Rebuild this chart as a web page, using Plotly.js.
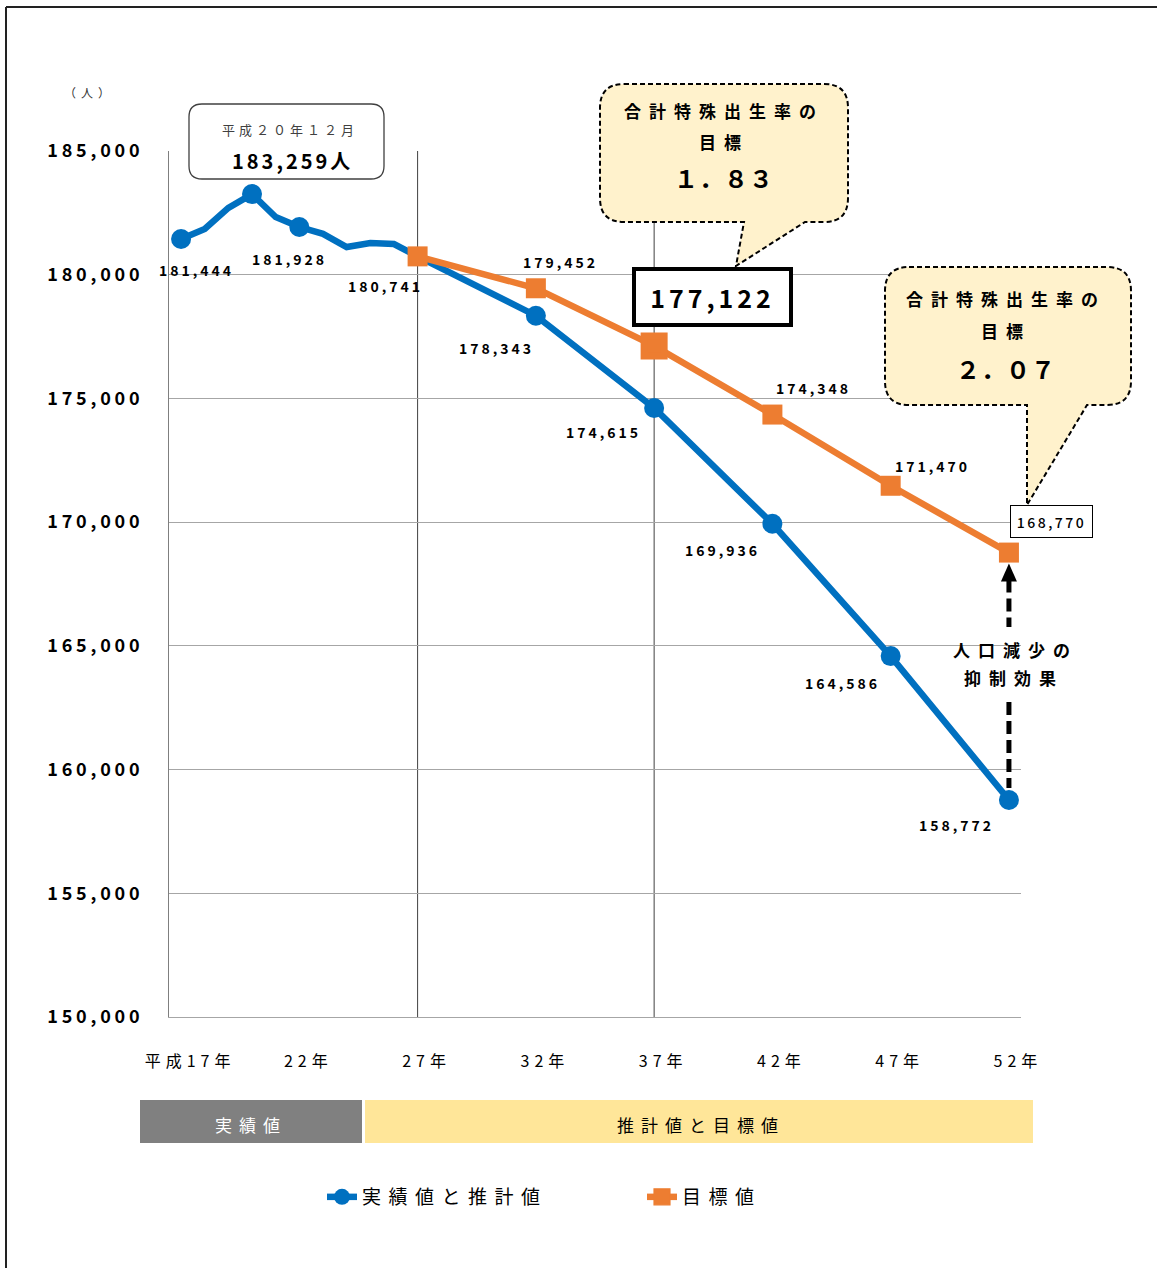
<!DOCTYPE html>
<html><head><meta charset="utf-8">
<script src="https://cdn.plot.ly/plotly-3.0.1.min.js"></script>
<style>html,body{margin:0;padding:0;background:#fff;} #chart{width:1157px;height:1268px;}</style>
</head><body><div id="chart"></div>
<script>
// ---------- data ----------
const actualYears = [17,18,19,20,21,22,23,24,25,26,27,32,37,42,47,52];
const actualValues = [181444,181850,182700,183259,182330,181928,181650,181120,181280,181240,180741,178343,174615,169936,164586,158772];
const actualMarkedYears = [17,20,22,32,37,42,47,52];
const targetYears = [27,32,37,42,47,52];
const targetValues = [180741,179452,177122,174348,171470,168770];
const tickYears = [17,22,27,32,37,42,47,52];
const tickLabels = ['平成17年','22年','27年','32年','37年','42年','47年','52年'];
const yTicks = [150000,155000,160000,165000,170000,175000,180000,185000];
const seriesNames = ['実績値と推計値','目標値'];
const bandLabels = ['実績値','推計値と目標値'];
const peakLabel = ['平成２０年１２月','183,259人'];
const goal1 = ['合計特殊出生率の','目標','１．８３'];
const goal2 = ['合計特殊出生率の','目標','２．０７'];
const effectLabel = ['人口減少の','抑制効果'];
const unitLabel = '（人）';

// ---------- geometry helpers ----------
const FONT = "'Noto Sans CJK JP', 'Noto Sans', sans-serif";
const L=169, R=1021, T=151, B=1017;
const X0=16.49, X1=52.51, Y0=150000, Y1=185000;
const px = x => (x-L)/(R-L);
const py = y => (B-y)/(B-T);
const xPix = yr => L + (yr-X0)/(X1-X0)*(R-L);
const yPix = v => B - (v-Y0)/(Y1-Y0)*(B-T);
const sp = (t, ls) => `<span style="letter-spacing:${ls}px">${t}</span>`;
const fmt = v => v.toLocaleString('en-US');

function bubble(x0,y0,x1,y1,r,tail){
  const P=(x,y)=>`${px(x).toFixed(5)},${py(y).toFixed(5)}`;
  let d=`M${P(x0+r,y0)}L${P(x1-r,y0)}Q${P(x1,y0)} ${P(x1,y0+r)}L${P(x1,y1-r)}Q${P(x1,y1)} ${P(x1-r,y1)}`;
  if(tail) d+=`L${P(tail[2],y1)}L${P(tail[1][0],tail[1][1])}L${P(tail[0],y1)}`;
  d+=`L${P(x0+r,y1)}Q${P(x0,y1)} ${P(x0,y1-r)}L${P(x0,y0+r)}Q${P(x0,y0)} ${P(x0+r,y0)}Z`;
  return d;
}

// ---------- traces ----------
const blue = '#0070C0', orange = '#ED7D31';
const traces = [
  {x: actualYears, y: actualValues, type:'scatter', mode:'lines+markers', name: sp(seriesNames[0],7.5),
   line:{color:blue,width:6.5},
   marker:{symbol:'circle', opacity:1, size:20,
     color: actualYears.map(y => actualMarkedYears.includes(y) ? blue : 'rgba(0,0,0,0)')},
   hoverinfo:'skip'},
  {x: targetYears, y: targetValues, type:'scatter', mode:'lines+markers', name: sp(seriesNames[1],7.5),
   line:{color:orange,width:6.5},
   marker:{color:orange, symbol:'square', opacity:1, size:20,
     line:{color:orange, width: targetYears.map(y => y===37 ? 7 : 0)}},
   hoverinfo:'skip'}
];

// ---------- annotations ----------
const ann = [];
const lab = (xv, yv, dx, dy, text, extra) => ann.push(Object.assign({
  x: xv, y: yv, xref:'x', yref:'y', xshift: dx, yshift: -dy, showarrow:false,
  xanchor:'center', yanchor:'middle',
  text: sp(text,3), font:{family:FONT,size:14,color:'#000',weight:700}
}, extra||{}));
const aVal = yr => actualValues[actualYears.indexOf(yr)];
const tVal = yr => targetValues[targetYears.indexOf(yr)];
lab(17, aVal(17), 15, 31, fmt(aVal(17)));
lab(22, aVal(22), -10, 32, fmt(aVal(22)));
lab(27, aVal(27), -32, 30, fmt(aVal(27)));
lab(32, tVal(32), 25, -26, fmt(tVal(32)));
lab(32, aVal(32), -39, 32, fmt(aVal(32)));
lab(37, aVal(37), -51, 24, fmt(aVal(37)));
lab(42, tVal(42), 41, -27, fmt(tVal(42)));
lab(42, aVal(42), -50, 26, fmt(aVal(42)));
lab(47, tVal(47), 42, -20, fmt(tVal(47)));
lab(47, aVal(47), -48, 27, fmt(aVal(47)));
lab(52, aVal(52), -52, 25, fmt(aVal(52)));
// boxed values
ann.push({x:37, y:tVal(37), xref:'x', yref:'y', xshift:58, yshift:49, showarrow:false, xanchor:'center', yanchor:'middle',
  text: sp(fmt(tVal(37)),4), font:{family:FONT,size:25,color:'#000',weight:700},
  bgcolor:'#fff', bordercolor:'#000', borderwidth:4, borderpad:0, width:153, height:52});
ann.push({x:52, y:tVal(52), xref:'x', yref:'y', xshift:43, yshift:31, showarrow:false, xanchor:'center', yanchor:'middle',
  text: sp(fmt(tVal(52)),2.5), font:{family:FONT,size:14,color:'#000',weight:500},
  bgcolor:'#fff', bordercolor:'#000', borderwidth:1, borderpad:0, width:81, height:31});

const txt = (x,y,text,ls,font) => ann.push({
  x: px(x), y: py(y), xref:'paper', yref:'paper', showarrow:false, xanchor:'center', yanchor:'middle',
  text: sp(text,ls), font: Object.assign({family:FONT,size:17,color:'#000'}, font||{})
});
txt(89, 92, unitLabel, 5, {size:12,color:'#333'});
txt(290, 129, peakLabel[0], 4, {size:13,color:'#404040'});
txt(292, 161, peakLabel[1], 3, {size:20,weight:700});
// goal callouts
[[goal1,724,111,142,177],[goal2,1006,298,330,368]].forEach(([g,cx,y1,y2,y3])=>{
  txt(cx, y1, g[0], 8, {size:17,weight:700});
  txt(cx, y2, g[1], 8, {size:17,weight:700});
  txt(cx, y3, g[2], 1, {size:24,weight:700});
});
// effect label
const arrowX = xPix(52);
txt(arrowX+7, 649, effectLabel[0], 8, {size:17,weight:700});
txt(arrowX+5, 677, effectLabel[1], 8, {size:17,weight:700});
// bands
txt(251, 1124, bandLabels[0], 7, {size:17,color:'#fff'});
txt(701, 1124, bandLabels[1], 7, {size:17});

// ---------- shapes ----------
const shapes = [];
// outer frame
shapes.push({type:'line', xref:'paper', yref:'paper', x0:px(6), y0:py(7), x1:px(1170), y1:py(7), line:{color:'#222',width:2}});
shapes.push({type:'line', xref:'paper', yref:'paper', x0:px(6), y0:py(7), x1:px(6), y1:py(1280), line:{color:'#222',width:2}});
// vertical reference lines
[27,37].forEach(yr => shapes.push({type:'line', xref:'x', yref:'paper', x0:yr, x1:yr, y0:0, y1:1, layer:'between', line:{color:'#404040',width:1}}));
// peak box
shapes.push({type:'path', xref:'paper', yref:'paper', path:bubble(189,104,384,179,13,null), fillcolor:'#fff', line:{color:'#404040',width:1.3}});
// goal bubbles
shapes.push({type:'path', xref:'paper', yref:'paper', path:bubble(600,84,848,222,24,[744,[736,266],805]), fillcolor:'#FFF2CC', line:{color:'#000',width:2,dash:'5px,3px'}});
shapes.push({type:'path', xref:'paper', yref:'paper', path:bubble(885,267,1131,405,24,[1027,[1027,505],1087]), fillcolor:'#FFF2CC', line:{color:'#000',width:2,dash:'5px,3px'}});
// bands
shapes.push({type:'rect', xref:'paper', yref:'paper', x0:px(140), x1:px(362), y0:py(1143), y1:py(1100), fillcolor:'#808080', line:{width:0}});
shapes.push({type:'rect', xref:'paper', yref:'paper', x0:px(365), x1:px(1033), y0:py(1143), y1:py(1100), fillcolor:'#FFE699', line:{width:0}});
// dashed arrow (blue end -> orange end)
const yTop = yPix(tVal(52)) + 11, yBot = yPix(aVal(52)) - 12;
shapes.push({type:'line', xref:'paper', yref:'paper', x0:px(arrowX), x1:px(arrowX), y0:py(yTop+16), y1:py(627), line:{color:'#000',width:5,dash:'13px,6px'}});
shapes.push({type:'line', xref:'paper', yref:'paper', x0:px(arrowX), x1:px(arrowX), y0:py(702), y1:py(yBot), line:{color:'#000',width:5,dash:'13px,6px'}});
shapes.push({type:'path', xref:'paper', yref:'paper',
  path:`M${px(arrowX)},${py(yTop)}L${px(arrowX+8)},${py(yTop+18)}L${px(arrowX-8)},${py(yTop+18)}Z`,
  fillcolor:'#000', line:{color:'#000',width:0}});

// ---------- layout ----------
const layout = {
  width:1157, height:1268,
  margin:{l:L, r:1157-R, t:T, b:1268-B, pad:0},
  paper_bgcolor:'#fff', plot_bgcolor:'#fff',
  font:{family:FONT, color:'#000'},
  showlegend:true,
  legend:{orientation:'h', x:px(322), xanchor:'left', y:py(1197), yanchor:'middle',
    font:{family:FONT,size:19,color:'#000'}, entrywidth:275, entrywidthmode:'pixels', itemwidth:30,
    bgcolor:'rgba(0,0,0,0)', borderwidth:0},
  xaxis:{range:[X0,X1], tickvals:tickYears, ticktext:tickLabels.map(t=>sp(t,5)), ticks:'',
    showgrid:false, zeroline:false, showline:true, linecolor:'#a6a6a6', linewidth:1,
    tickfont:{family:FONT,size:16,color:'#000'}, ticklabelshift:9, ticklabelstandoff:30, fixedrange:true},
  yaxis:{range:[Y0,Y1], tickvals:yTicks, ticktext:yTicks.map(v=>sp(fmt(v),3.8)), ticks:'',
    showgrid:true, gridcolor:'#a6a6a6', gridwidth:1, zeroline:false, showline:true, linecolor:'#7f7f7f', linewidth:1,
    tickfont:{family:FONT,size:18,color:'#000',weight:700}, ticklabelstandoff:21, fixedrange:true},
  annotations: ann,
  shapes: shapes
};
Plotly.newPlot('chart', traces, layout, {displayModeBar:false, staticPlot:true});
</script></body></html>
